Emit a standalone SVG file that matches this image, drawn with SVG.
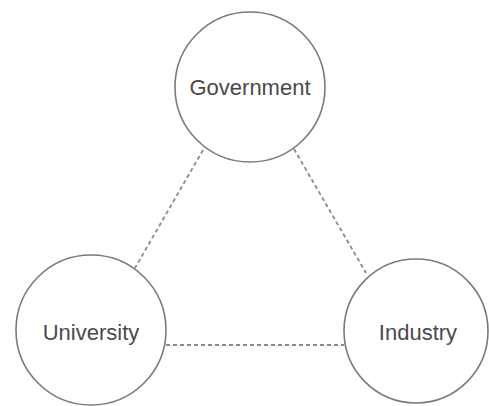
<svg xmlns="http://www.w3.org/2000/svg" width="489" height="406" viewBox="0 0 489 406">
<style>
.node circle{fill:#fff;stroke:#7a7a7a;stroke-width:1.6}
.node text{font-family:"Liberation Sans",Arial,sans-serif;font-size:22px;fill:#4a4a4a;text-anchor:middle}
.conn line{stroke:#8a8a8a;stroke-width:1.8;stroke-dasharray:4 3}
</style>
<rect width="489" height="406" fill="#fff"/>
<g id="connectors" class="conn">
<line x1="203" y1="150" x2="135" y2="268"/>
<line x1="294" y1="149" x2="366" y2="273"/>
<line x1="166" y1="345" x2="344" y2="345"/>
</g>
<g id="government" class="node">
<circle cx="250" cy="87" r="75"/>
<text x="250" y="95">Government</text>
</g>
<g id="university" class="node">
<circle cx="91" cy="330" r="75"/>
<text x="91" y="340">University</text>
</g>
<g id="industry" class="node">
<circle cx="416" cy="331" r="72"/>
<text x="418" y="340">Industry</text>
</g>
</svg>
